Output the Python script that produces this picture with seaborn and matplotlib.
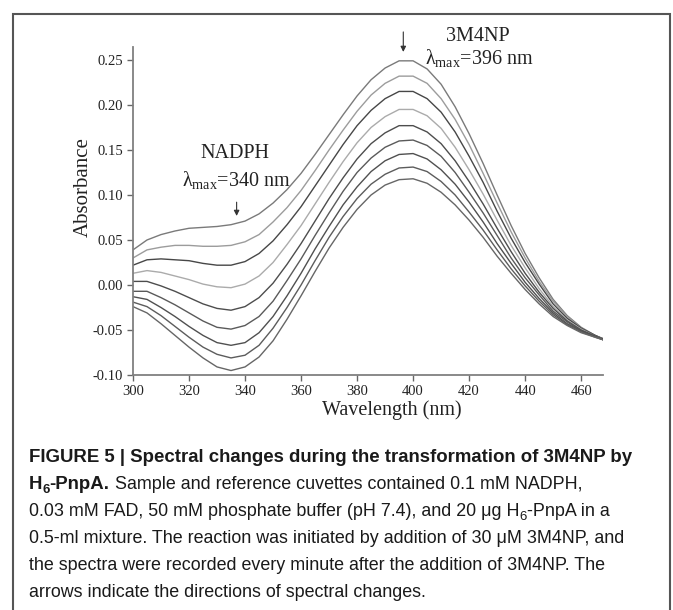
import pandas as pd
import seaborn as sns
import matplotlib.pyplot as plt
from matplotlib.patches import Rectangle

wavelength = [300, 305, 310, 315, 320, 325, 330, 335, 340, 345, 350, 355, 360, 365, 370,
              375, 380, 385, 390, 395, 400, 405, 410, 415, 420, 425, 430, 435, 440, 445,
              450, 455, 460, 465, 468]

# absorbance of the nine successive scans, top (first) to bottom (last)
scan1 = [.039, .050, .056, .060, .063, .064, .065, .067, .071, .079, .091, .106, .124, .145, .167,
         .189, .210, .228, .241, .249, .249, .240, .223, .198, .168, .135, .100, .066, .035, .008,
         -.016, -.034, -.047, -.056, -.060]
scan2 = [.030, .039, .042, .044, .044, .043, .043, .044, .048, .056, .070, .086, .105, .127, .150,
         .172, .193, .211, .224, .232, .232, .224, .207, .184, .156, .124, .091, .059, .030, .004,
         -.018, -.035, -.048, -.056, -.060]
scan3 = [.022, .028, .029, .028, .027, .024, .022, .022, .026, .035, .049, .067, .087, .110, .133,
         .156, .177, .194, .207, .215, .215, .207, .192, .170, .143, .114, .082, .052, .025, .001,
         -.021, -.037, -.048, -.056, -.060]
scan4 = [.013, .016, .014, .010, .006, .001, -.002, -.003, .001, .010, .025, .045, .066, .090, .114,
         .137, .158, .175, .187, .195, .195, .188, .174, .153, .128, .101, .072, .044, .019, -.004,
         -.024, -.039, -.049, -.057, -.060]
scan5 = [.004, .004, -.001, -.007, -.014, -.021, -.026, -.028, -.024, -.014, .002, .023, .046, .071, .096,
         .119, .140, .157, .169, .177, .177, .170, .157, .138, .115, .090, .063, .037, .013, -.008,
         -.026, -.040, -.050, -.057, -.060]
scan6 = [-.007, -.007, -.014, -.022, -.031, -.040, -.047, -.049, -.045, -.035, -.018, .005, .029, .055, .080,
         .104, .125, .141, .153, .160, .161, .155, .143, .125, .103, .080, .055, .030, .008, -.011,
         -.029, -.041, -.051, -.057, -.061]
scan7 = [-.013, -.016, -.025, -.035, -.046, -.056, -.064, -.067, -.064, -.053, -.035, -.012, .013, .040, .065,
         .089, .109, .126, .138, .145, .146, .140, .128, .112, .092, .070, .046, .024, .003, -.015,
         -.031, -.043, -.051, -.057, -.061]
scan8 = [-.019, -.024, -.034, -.046, -.058, -.069, -.077, -.081, -.078, -.067, -.048, -.025, .000, .027, .053,
         .076, .096, .112, .123, .130, .131, .126, .115, .100, .081, .061, .039, .018, -.001, -.018,
         -.033, -.044, -.052, -.058, -.061]
scan9 = [-.024, -.031, -.043, -.056, -.069, -.081, -.091, -.095, -.091, -.080, -.062, -.038, -.012, .015, .041,
         .064, .084, .100, .111, .117, .118, .113, .103, .089, .072, .053, .032, .013, -.005, -.021,
         -.035, -.045, -.053, -.058, -.061]

x_ticks = [300, 320, 340, 360, 380, 400, 420, 440, 460]
y_ticks = [-0.10, -0.05, 0.00, 0.05, 0.10, 0.15, 0.20, 0.25]

scans = [scan1, scan2, scan3, scan4, scan5, scan6, scan7, scan8, scan9]
df = pd.DataFrame({"Wavelength": wavelength * len(scans),
                   "Absorbance": sum(scans, []),
                   "scan": [i for i in range(len(scans)) for _ in wavelength]})

sns.set_style("ticks")
plt.rcParams["font.family"] = ["Liberation Serif", "DejaVu Serif"]
plt.rcParams["mathtext.fontset"] = "custom"
plt.rcParams["mathtext.rm"] = "Liberation Serif"

greys = ["#7a7a7a", "#9c9c9c", "#474747", "#ababab", "#4d4d4d",
         "#5a5a5a", "#505050", "#5c5c5c", "#666666"]

fig = plt.figure(figsize=(6.73, 6.10), dpi=100)
ax = fig.add_axes([0.1976, 0.3852, 0.6984, 0.5378])

sns.lineplot(data=df, x="Wavelength", y="Absorbance", hue="scan", palette=greys,
             legend=False, linewidth=1.0, ax=ax)

ax.set_xlim(300, 467.8)
ax.set_ylim(-0.10, 0.2644)
ax.set_xticks(x_ticks)
ax.set_yticks(y_ticks)
ax.set_yticklabels(["%.2f" % v for v in y_ticks])
ax.set_xlabel("")
ax.set_ylabel("")
for side in ["top", "right"]:
    ax.spines[side].set_visible(False)
for side in ["left", "bottom"]:
    ax.spines[side].set_color("#808080")
    ax.spines[side].set_linewidth(1.3)
ax.tick_params(direction="out", length=4, width=1, color="#666666",
               labelsize=10.5, labelcolor="#222222", pad=3)

ax.text(-0.106, 0.573, "Absorbance", transform=ax.transAxes, rotation=90,
        ha="center", va="center", fontsize=15, color="#222222")
ax.text(0.55, -0.107, "Wavelength (nm)", transform=ax.transAxes,
        ha="center", va="center", fontsize=14.5, color="#222222")

# peak labels and arrows
ax.text(423.2, 0.2756, "3M4NP", ha="center", va="center", fontsize=14.5,
        color="#222222", clip_on=False)
ax.text(404.3, 0.2511, r"λ$_{\mathrm{max}}$=396 nm", ha="left", va="center",
        fontsize=14.5, color="#222222", clip_on=False)
ax.text(336.4, 0.1456, "NADPH", ha="center", va="center", fontsize=14.5, color="#222222")
ax.text(317.5, 0.1156, r"λ$_{\mathrm{max}}$=340 nm", ha="left", va="center",
        fontsize=14.5, color="#222222")
arrow = dict(arrowstyle="-|>", color="#333333", lw=0.8, mutation_scale=8,
             shrinkA=0, shrinkB=0)
ax.annotate("", xy=(396.5, 0.2589), xytext=(396.5, 0.2811), arrowprops=arrow,
            annotation_clip=False)
ax.annotate("", xy=(337.0, 0.0767), xytext=(337.0, 0.092), arrowprops=arrow)

# frame round the whole figure
fig.add_artist(Rectangle((0.0193, -0.05), 0.9762, 1.027, transform=fig.transFigure,
                         fill=False, edgecolor="#555555", linewidth=1.5))

# caption, written run by run so bold / subscript parts can follow each other
cap_font = ["Liberation Sans Narrow", "Liberation Sans", "DejaVu Sans"]
renderer = fig.canvas.get_renderer()


def caption_line(y_px, parts):
    x = 29 / 673
    for txt, weight, sub in parts:
        big = 13.4 if weight == "bold" else 12.9
        t = fig.text(x, 1 - (y_px + (4 if sub else 0)) / 610, txt,
                     fontsize=9.5 if sub else big, fontweight=weight,
                     family=cap_font, color="#1a1a1a", va="baseline", ha="left")
        x = t.get_window_extent(renderer=renderer).x1 / fig.bbox.width


caption_line(462, [("FIGURE 5 | Spectral changes during the transformation of 3M4NP by", "bold", False)])
caption_line(489, [("H", "bold", False), ("6", "bold", True), ("-PnpA.", "bold", False),
                   (" Sample and reference cuvettes contained 0.1 mM NADPH,", "normal", False)])
caption_line(516, [("0.03 mM FAD, 50 mM phosphate buffer (pH 7.4), and 20 μg H", "normal", False),
                   ("6", "normal", True), ("-PnpA in a", "normal", False)])
caption_line(543, [("0.5-ml mixture. The reaction was initiated by addition of 30 μM 3M4NP, and",
                    "normal", False)])
caption_line(570, [("the spectra were recorded every minute after the addition of 3M4NP. The",
                    "normal", False)])
caption_line(597, [("arrows indicate the directions of spectral changes.", "normal", False)])

fig.savefig("out.png", dpi=100)
